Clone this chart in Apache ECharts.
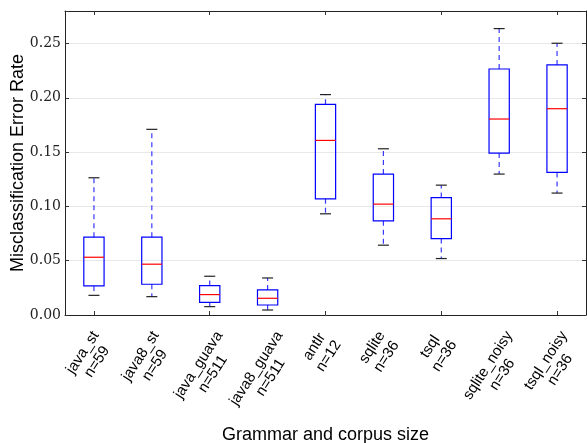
<!DOCTYPE html>
<html>
<head>
<meta charset="utf-8">
<script src="https://cdn.jsdelivr.net/npm/echarts@6/dist/echarts.min.js"></script>
<style>html,body{margin:0;padding:0;background:#fff;}#c{width:587px;height:443px;}</style>
</head>
<body>
<div id="c"></div>
<script>
const categories = ['java_st\nn=59','java8_st\nn=59','java_guava\nn=511','java8_guava\nn=511','antlr\nn=12','sqlite\nn=36','tsql\nn=36','sqlite_noisy\nn=36','tsql_noisy\nn=36'];
const lows    = [0.0181, 0.0169, 0.0077, 0.0046, 0.0932, 0.0643, 0.0520, 0.1298, 0.1123];
const q1s     = [0.0268, 0.0283, 0.0117, 0.0092, 0.1070, 0.0867, 0.0704, 0.1491, 0.1313];
const medians = [0.0532, 0.0468, 0.0188, 0.0154, 0.1608, 0.1021, 0.0886, 0.1805, 0.1900];
const q3s     = [0.0717, 0.0717, 0.0271, 0.0231, 0.1940, 0.1298, 0.1082, 0.2266, 0.2303];
const highs   = [0.1264, 0.1710, 0.0357, 0.0341, 0.2030, 0.1531, 0.1196, 0.2638, 0.2503];
const yTicks  = [0, 0.05, 0.10, 0.15, 0.20, 0.25];

const data = categories.map((c, i) => [i, lows[i], q1s[i], medians[i], q3s[i], highs[i]]);

const LABEL_FONT = '15px "Liberation Sans"';
const LABEL_ROT = 57 * Math.PI / 180;
const LINE_H = 17;
const measureCtx = document.createElement('canvas').getContext('2d');
measureCtx.font = LABEL_FONT;
function labelWidth(txt) {
  return Math.max.apply(null, txt.split('\n').map(s => measureCtx.measureText(s).width));
}

function renderItem(params, api) {
  const i = api.value(0);
  const bw = api.size([1, 0])[0];
  const half = bw * 0.175;
  const capHalf = bw * 0.095;
  const pLow = api.coord([i, api.value(1)]);
  const pQ1 = api.coord([i, api.value(2)]);
  const pMed = api.coord([i, api.value(3)]);
  const pQ3 = api.coord([i, api.value(4)]);
  const pHigh = api.coord([i, api.value(5)]);
  const pBase = api.coord([i, 0]);
  const x = pQ1[0];
  const whiskerStyle = {stroke: '#3838ff', lineWidth: 1.2, lineDash: [5, 4]};
  const capStyle = {stroke: '#222', lineWidth: 1.2};
  const txt = categories[i];
  const W = labelWidth(txt);
  const H = txt.split('\n').length * LINE_H;
  const halfBoxH = W / 2 * Math.sin(LABEL_ROT) + H / 2 * Math.cos(LABEL_ROT);
  return {
    type: 'group',
    children: [
      {type: 'line', shape: {x1: x, y1: pQ3[1], x2: x, y2: pHigh[1]}, style: whiskerStyle},
      {type: 'line', shape: {x1: x, y1: pQ1[1], x2: x, y2: pLow[1]}, style: whiskerStyle},
      {type: 'line', shape: {x1: x - capHalf, y1: pHigh[1], x2: x + capHalf, y2: pHigh[1]}, style: capStyle},
      {type: 'line', shape: {x1: x - capHalf, y1: pLow[1], x2: x + capHalf, y2: pLow[1]}, style: capStyle},
      {type: 'rect', shape: {x: x - half, y: pQ3[1], width: half * 2, height: pQ1[1] - pQ3[1]}, style: {fill: 'none', stroke: '#0000ff', lineWidth: 1.2}},
      {type: 'line', shape: {x1: x - half, y1: pMed[1], x2: x + half, y2: pMed[1]}, style: {stroke: '#ff0000', lineWidth: 1.2}},
      {type: 'text', x: x - 4, y: pBase[1] + 13 + halfBoxH, rotation: LABEL_ROT,
       style: {text: txt, font: LABEL_FONT, fill: '#000', align: 'center', verticalAlign: 'middle', lineHeight: LINE_H}}
    ]
  };
}

const chart = echarts.init(document.getElementById('c'), null, {renderer: 'canvas'});
const yCommon = {
  type: 'value', min: 0, max: 0.28, interval: 0.05,
  axisLine: {show: true, lineStyle: {color: '#222', width: 1}},
  axisTick: {show: true, inside: true, length: 4, lineStyle: {color: '#333'}}
};
const xCommon = {
  type: 'category', data: categories,
  axisLine: {show: true, onZero: false, lineStyle: {color: '#222', width: 1}},
  axisTick: {show: true, inside: true, alignWithLabel: true, length: 4, lineStyle: {color: '#333'}},
  axisLabel: {show: false}, splitLine: {show: false}
};
chart.setOption({
  animation: false,
  grid: {left: 65, right: 1, top: 11, bottom: 128, containLabel: false, outerBoundsMode: 'none'},
  xAxis: [Object.assign({}, xCommon, {
    position: 'bottom',
    name: 'Grammar and corpus size', nameLocation: 'middle', nameGap: 111, nameMoveOverlap: false,
    nameTextStyle: {fontFamily: 'Liberation Sans', fontSize: 18, color: '#000'}
  }), Object.assign({}, xCommon, {position: 'top'})],
  yAxis: [Object.assign({}, yCommon, {
    position: 'left',
    axisLabel: {show: true, fontFamily: 'DejaVu Serif', fontSize: 14, color: '#222', margin: 4,
      customValues: yTicks, formatter: v => v.toFixed(2)},
    splitLine: {show: true, lineStyle: {color: '#e8e8e8', width: 1}},
    name: 'Misclassification Error Rate', nameLocation: 'middle', nameGap: 38, nameRotate: 90,
    nameMoveOverlap: false,
    nameTextStyle: {fontFamily: 'Liberation Sans', fontSize: 18, color: '#000'}
  }), Object.assign({}, yCommon, {
    position: 'right', axisLabel: {show: false}, splitLine: {show: false}
  })],
  series: [{
    type: 'custom', renderItem: renderItem, data: data,
    xAxisIndex: 0, yAxisIndex: 0,
    encode: {x: 0, y: [1, 2, 3, 4, 5]}, clip: false
  }]
});
</script>
</body>
</html>
